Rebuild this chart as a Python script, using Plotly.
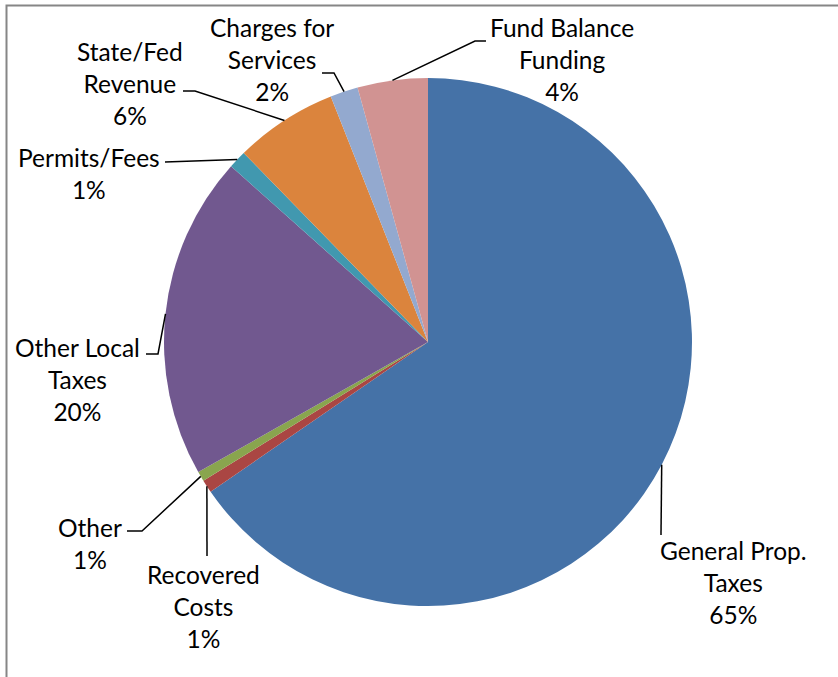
import math
import plotly.graph_objects as go

# Revenue sources, listed clockwise from 12 o'clock
categories = [
    "General Prop.<br>Taxes",
    "Recovered<br>Costs",
    "Other",
    "Other Local<br>Taxes",
    "Permits/Fees",
    "State/Fed<br>Revenue",
    "Charges for<br>Services",
    "Fund Balance<br>Funding",
]
shares = [65.4, 0.8, 0.6, 19.8, 1.1, 6.3, 1.7, 4.3]
colors = ["#4572A7", "#AA4643", "#89A54E", "#71588F",
          "#4198AF", "#DB843D", "#93A9CF", "#D19392"]

W, H = 838, 677
CX, CY, R = 428, 342, 264          # pie centre and radius in pixels
FONT_SIZE = 24.5
LINE_H = FONT_SIZE * 1.3           # plotly's multi-line spacing

# Label placement: (centre x, first-line centre y), leader-line bend points
label_pos = [
    (733, 551, [(661, 535)]),
    (203, 575, [(207, 556)]),
    (90, 528, [(142, 531), (127, 531)]),
    (77, 348, [(158, 354), (146, 354)]),
    (89, 158, [(165, 162)]),
    (130, 52, [(195, 91), (183, 91)]),
    (272, 28, [(334, 73), (322, 73)]),
    (562, 28, [(475, 41), (486, 41)]),
]


def px(x):
    return x / W


def py(y):
    return 1 - y / H


fig = go.Figure(go.Pie(
    labels=categories,
    values=shares,
    sort=False,
    direction="clockwise",
    rotation=0,
    marker=dict(colors=colors, line=dict(width=0)),
    textinfo="none",
    hoverinfo="label+percent",
    showlegend=False,
    domain=dict(x=[px(CX - R), px(CX + R)], y=[py(CY + R), py(CY - R)]),
))

total = sum(shares)
cum = 0.0
shapes = []
annotations = []
for name, v, (lx, ly, bends) in zip(categories, shares, label_pos):
    mid = (cum + v / 2) / total * 2 * math.pi
    cum += v
    sx = CX + R * math.sin(mid)
    sy = CY - R * math.cos(mid)
    pts = [(sx, sy)] + bends
    path = "M " + " L ".join(f"{px(x):.5f},{py(y):.5f}" for x, y in pts)
    shapes.append(dict(type="path", xref="paper", yref="paper", path=path,
                       line=dict(color="black", width=1.5)))
    pct = round(v / total * 100)
    text = f"{name}<br>{pct}%"
    nlines = text.count("<br>") + 1
    cy_mid = ly + LINE_H * (nlines - 1) / 2
    annotations.append(dict(
        x=px(lx), y=py(cy_mid), xref="paper", yref="paper",
        text=text, showarrow=False, align="center",
        xanchor="center", yanchor="middle",
        font=dict(family="Lato", size=FONT_SIZE, color="black"),
    ))

# outer chart-area border
shapes.append(dict(type="rect", xref="paper", yref="paper",
                   x0=px(6.5), y0=py(5.5), x1=1.2, y1=-0.2,
                   line=dict(color="#868686", width=2),
                   fillcolor="rgba(0,0,0,0)"))

fig.update_layout(
    width=W, height=H,
    margin=dict(l=0, r=0, t=0, b=0),
    paper_bgcolor="white",
    plot_bgcolor="white",
    shapes=shapes,
    annotations=annotations,
)

fig.write_html("out.html")
